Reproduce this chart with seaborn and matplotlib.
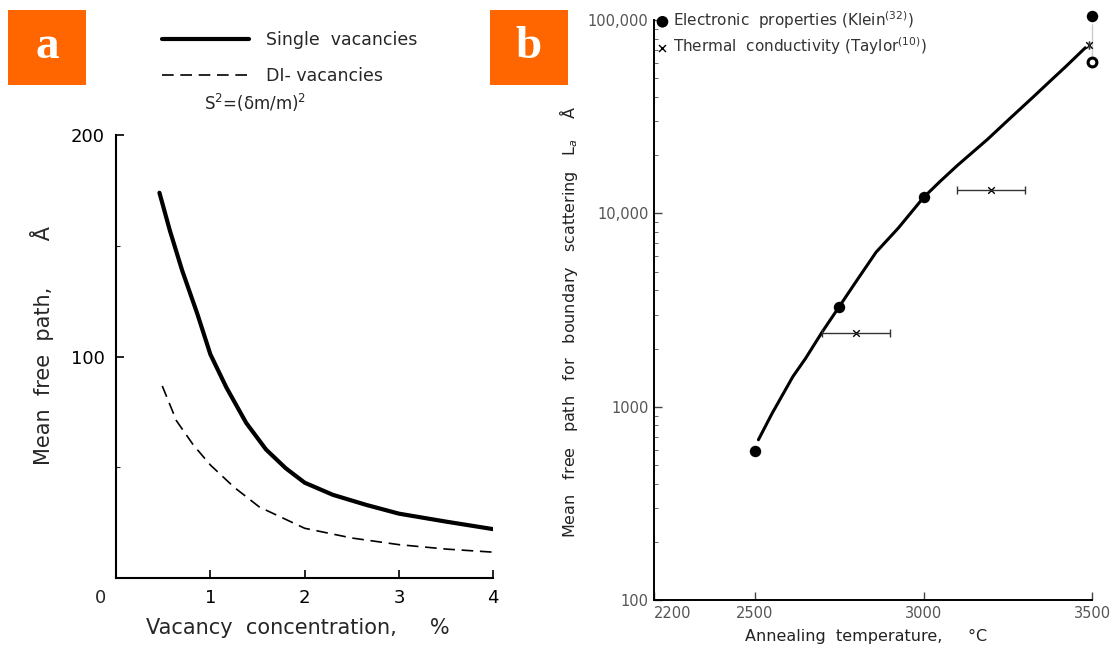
import numpy as np
import pandas as pd
import matplotlib
matplotlib.use("Agg")
import matplotlib.pyplot as plt
import seaborn as sns
from matplotlib.patches import Rectangle
from matplotlib.ticker import FixedLocator, FixedFormatter

# ---------------- data: panel a ----------------
conc_single = [0.46, 0.57, 0.70, 0.86, 1.0, 1.17, 1.38, 1.59, 1.80, 2.0, 2.3, 2.65, 3.0, 3.5, 4.0]
mfp_single = [174, 157, 139, 119.5, 101, 86, 70, 58, 49.5, 43, 37.5, 33, 29, 25.4, 22]
conc_di = [0.49, 0.64, 0.82, 1.0, 1.25, 1.52, 1.77, 2.0, 2.5, 3.0, 3.5, 4.0]
mfp_di = [86.7, 71, 60, 51, 41, 32, 27, 22.4, 18, 15, 13, 11.6]
a_xticks = [1, 2, 3, 4]
a_yticks = [100, 200]

# ---------------- data: panel b ----------------
temp_curve = [2510, 2550, 2612, 2650, 2700, 2750, 2800, 2859, 2925, 3000, 3050, 3100,
              3190, 3250, 3325, 3380, 3420, 3480]
la_curve = [675, 920, 1430, 1780, 2450, 3300, 4450, 6300, 8400, 12100, 14700, 17700,
            24200, 30300, 40000, 49200, 57100, 72000]
temp_elec = [2500, 2750, 3000, 3500]
la_elec = [590, 3300, 12100, 105000]
temp_range = [3500, 3500]
la_range = [105000, 61000]
temp_therm = [2800, 3200, 3490]
la_therm = [2400, 13300, 74000]
xerr_therm = [100, 100, 0]
b_xticks = [2200, 2500, 3000, 3500]
b_yticks = [100, 1000, 10000, 100000]
b_ylabels = ["100", "1000", "10,000", "100,000"]

sns.set_theme(style="ticks")
plt.rcParams["font.family"] = ["DejaVu Sans"]

fig = plt.figure(figsize=(11.16, 6.5), dpi=100)
axa = fig.add_axes([0.104, 0.111, 0.338, 0.681])
axb = fig.add_axes([0.586, 0.0769, 0.3925, 0.892])

# ---------------- panel a ----------------
sns.lineplot(x=conc_single, y=mfp_single, ax=axa, color="black", lw=3.0,
             label="Single  vacancies", sort=False)
sns.lineplot(x=conc_di, y=mfp_di, ax=axa, color="black", lw=1.2,
             label="DI- vacancies", sort=False)
axa.lines[1].set_dashes((7, 4))
for ln in axa.lines:
    ln.set_solid_capstyle("round")
    ln.set_solid_joinstyle("round")
handles, labels = axa.get_legend_handles_labels()
axa.get_legend().remove()
fig.legend(handles, labels, loc="upper left", bbox_to_anchor=(0.131, 0.976),
           frameon=False, fontsize=12.5, handlelength=5.0, handletextpad=1.0,
           labelspacing=1.0)
fig.text(255 / 1116, 1 - 103 / 650, r"S$^2$=(δm/m)$^2$", ha="center", va="center",
         fontsize=12)

axa.set_xlim(0, 4)
axa.set_ylim(0, 200)
axa.set_xticks(a_xticks)
axa.set_yticks(a_yticks)
axa.set_yticks([50, 150], minor=True)
axa.tick_params(axis="both", which="major", direction="in", length=6, width=1.2,
                labelsize=13, colors="black", pad=8)
axa.tick_params(axis="y", which="minor", direction="in", length=3, width=0.8)
sns.despine(ax=axa)
for s in ("left", "bottom"):
    axa.spines[s].set_linewidth(1.5)
    axa.spines[s].set_color("black")
axa.text(-0.042, -0.045, "0", transform=axa.transAxes, ha="center", va="center",
         fontsize=13)
axa.set_xlabel("Vacancy  concentration,     %", fontsize=15)
axa.xaxis.set_label_coords(0.483, -0.09)
axa.set_ylabel("Mean  free  path,       Å", fontsize=15)
axa.yaxis.set_label_coords(-0.165, 0.526)
axa.grid(False)

# ---------------- panel b ----------------
axb.set_yscale("log")
sns.lineplot(x=temp_curve, y=la_curve, ax=axb, color="black", lw=2.2, sort=False)
sns.lineplot(x=temp_range, y=la_range, ax=axb, color="black", lw=1.0, sort=False)
axb.lines[0].set_solid_joinstyle("round")
axb.lines[1].set_dashes((2, 2))
axb.lines[1].set_clip_on(False)
axb.errorbar(temp_therm, la_therm, xerr=xerr_therm, fmt="none", ecolor="#333333",
             elinewidth=1.0, capsize=3, capthick=1.0)
sns.scatterplot(x=temp_therm, y=la_therm, ax=axb, marker="x", s=22, color="black",
                linewidth=1.0, label="Thermal  conductivity (Taylor$^{(10)}$)")
sns.scatterplot(x=temp_elec, y=la_elec, ax=axb, marker="o", s=95, color="black",
                edgecolor="white", linewidth=1.5,
                label="Electronic  properties (Klein$^{(32)}$)")
sns.scatterplot(x=[temp_range[1]], y=[la_range[1]], ax=axb, marker="o", s=40,
                facecolor="white", edgecolor="black", linewidth=2.2)
for c in axb.collections:
    c.set_clip_on(False)

h, l = axb.get_legend_handles_labels()
axb.get_legend().remove()
order = [l.index(x) for x in l if x.startswith("Electronic")] + \
        [l.index(x) for x in l if x.startswith("Thermal")]
leg = axb.legend([h[i] for i in order], [l[i] for i in order], loc="upper left",
                 bbox_to_anchor=(-0.012, 1.035), frameon=False, fontsize=11,
                 handlelength=0.6, handletextpad=0.4, labelspacing=0.3,
                 borderaxespad=0.2, labelcolor="#333333", markerscale=1.0)
leg.legend_handles[0].set_sizes([70])
leg.legend_handles[0].set_edgecolor("none")
leg.legend_handles[1].set_sizes([25])

axb.set_xlim(2200, 3500)
axb.set_ylim(100, 100000)
axb.xaxis.set_major_locator(FixedLocator(b_xticks))
axb.yaxis.set_major_locator(FixedLocator(b_yticks))
axb.yaxis.set_major_formatter(FixedFormatter(b_ylabels))
axb.tick_params(axis="both", which="major", direction="in", length=6, width=1.0,
                labelsize=10.5, labelcolor="#555555", color="#444444", pad=4)
axb.tick_params(axis="y", which="minor", direction="in", length=3, width=0.7,
                color="#666666")
fig.canvas.draw()
xlbls = axb.get_xticklabels()
xlbls[0].set_horizontalalignment("left")
sns.despine(ax=axb)
for s in ("left", "bottom"):
    axb.spines[s].set_linewidth(1.4)
    axb.spines[s].set_color("black")
axb.set_xlabel("Annealing  temperature,     °C", fontsize=11.5, color="#222222")
axb.xaxis.set_label_coords(0.484, -0.05)
axb.set_ylabel("Mean   free   path   for   boundary   scattering   L$_a$    Å",
               fontsize=11.5, color="#222222")
axb.yaxis.set_label_coords(-0.17, 0.48)
axb.grid(False)

# ---------------- panel letters ----------------
orange = "#FF6600"
for x0, letter in ((8, "a"), (490, "b")):
    fig.patches.append(Rectangle((x0 / 1116, 1 - 85 / 650), 78 / 1116, 75 / 650,
                                 transform=fig.transFigure, facecolor=orange,
                                 edgecolor="none", zorder=0))
    fig.text((x0 + 39) / 1116, 1 - 47.5 / 650, letter, ha="center", va="center",
             color="white", fontsize=34, fontweight="bold",
             family=["Liberation Serif", "DejaVu Serif"])

fig.savefig("out.png", dpi=100, facecolor="white")
